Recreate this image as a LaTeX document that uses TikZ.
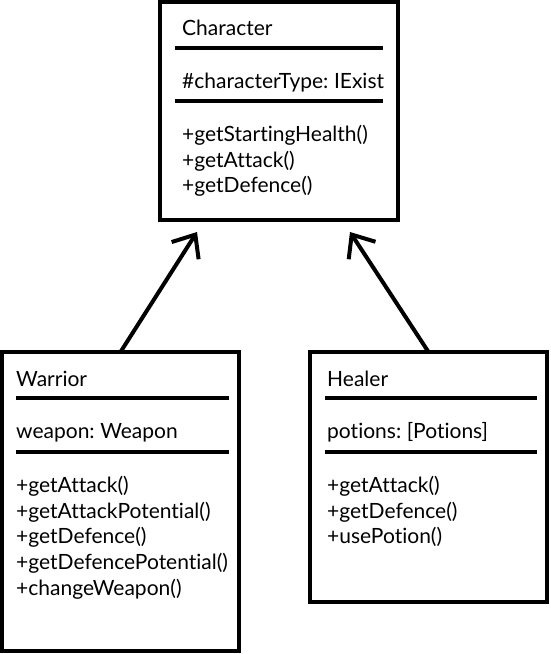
\documentclass[tikz,border=0pt]{standalone}
\usepackage{fontspec}
\setmainfont[Ligatures={NoCommon,NoRequired,NoContextual},WordSpace=0.7]{Lato}
\usetikzlibrary{arrows.meta}
\begin{document}
\begin{tikzpicture}[x=1pt,y=-1pt,
  box/.style={draw, line width=4pt, rectangle, anchor=north west, inner sep=0pt, outer sep=0pt},
  txt/.style={anchor=base west, inner sep=0pt, font=\fontsize{21}{24}\selectfont},
  sepline/.style={line width=4pt},
  inh/.style={-{Straight Barb[length=19pt,width=32pt]}, line width=4pt}]
\useasboundingbox (0,0) rectangle (550,654);
% boxes
\node[box, minimum width=238pt, minimum height=218pt] (char) at (160,2) {};
\node[box, minimum width=237pt, minimum height=299pt] (warrior) at (2,352) {};
\node[box, minimum width=237pt, minimum height=250pt] (healer) at (310,352) {};
% Character
\node[txt] (c1) at (182,35) {Character};
\draw[sepline] (175,47.5) -- (383,47.5);
\node[txt] (c2) at (182,88) {\#characterType: IExist};
\draw[sepline] (175,101) -- (383,101);
\node[txt] (c3) at (182,141) {+getStartingHealth()};
\node[txt] (c4) at (182,167) {+getAttack()};
\node[txt] (c5) at (182,192) {+getDefence()};
% Warrior
\node[txt] (w1) at (16,386) {Warrior};
\draw[sepline] (16,398) -- (229,398);
\node[txt] (w2) at (16,438) {weapon: Weapon};
\draw[sepline] (16,452) -- (229,452);
\node[txt] (w3) at (16,492) {+getAttack()};
\node[txt] (w4) at (16,518) {+getAttackPotential()};
\node[txt] (w5) at (16,543) {+getDefence()};
\node[txt] (w6) at (16,569) {+getDefencePotential()};
\node[txt] (w7) at (16,595) {+changeWeapon()};
% Healer
\node[txt] (h1) at (327,386) {Healer};
\draw[sepline] (325,397.5) -- (537,397.5);
\node[txt] (h2) at (327,438) {potions: [Potions]};
\draw[sepline] (325,451.5) -- (537,451.5);
\node[txt] (h3) at (327,492) {+getAttack()};
\node[txt] (h4) at (327,518) {+getDefence()};
\node[txt] (h5) at (327,543) {+usePotion()};
% inheritance arrows
\coordinate (t1) at (197,232);
\coordinate (t2) at (350,232);
\draw[inh] (warrior.north) -- (t1);
\draw[inh] (healer.north) -- (t2);
\end{tikzpicture}
\end{document}
